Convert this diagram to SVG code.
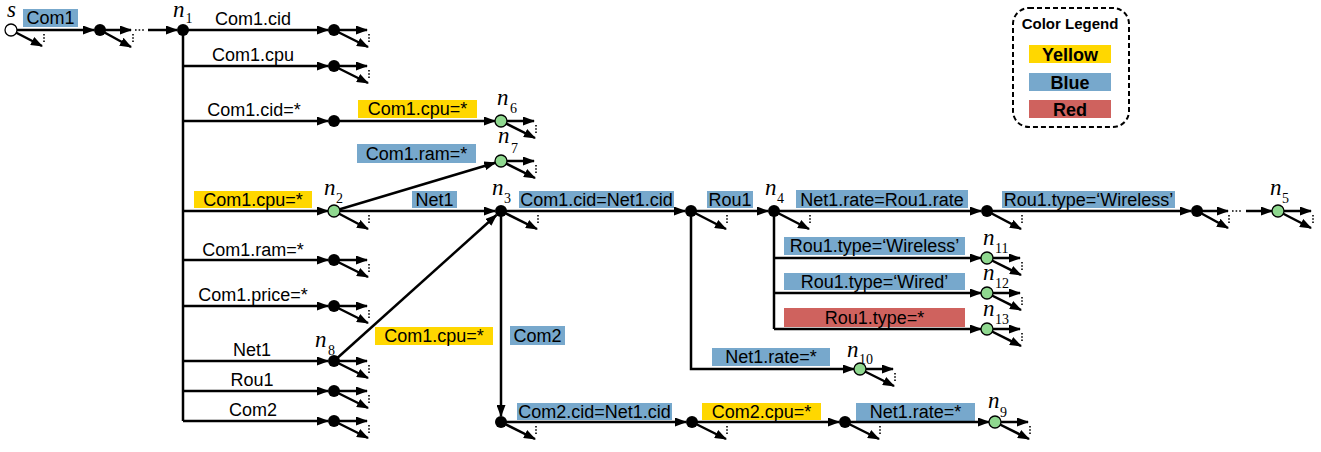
<svg xmlns="http://www.w3.org/2000/svg" width="1321" height="452" viewBox="0 0 1321 452">
<defs>
<style>
.e{stroke:#000;stroke-width:2.5;fill:none}
.a{marker-end:url(#ah)}
.dot{stroke:#000;stroke-width:1.6;stroke-dasharray:1.6 1.6;fill:none}
.ell{stroke:#000;stroke-width:1.6;stroke-dasharray:1.6 2;fill:none}
.nb{fill:#000}
.nw{fill:#fff;stroke:#000;stroke-width:1.3}
.ng{fill:#8FD88F;stroke:#000;stroke-width:1.3}
.t{font-family:"Liberation Sans",Arial,sans-serif;font-size:18px;fill:#000}
.c{text-anchor:middle}
.ni{font-family:"Liberation Serif","Times New Roman",serif;font-style:italic;font-size:23px;fill:#000}
.ns{font-family:"Liberation Serif","Times New Roman",serif;font-size:14px;fill:#000}
.by{fill:#FFD700}
.bb{fill:#77A8CC}
.br{fill:#CF625E}
.lg{font-family:"Liberation Sans",Arial,sans-serif;font-weight:bold;fill:#000;text-anchor:middle}
</style>
<marker id="ah" markerUnits="userSpaceOnUse" markerWidth="12" markerHeight="9" refX="11" refY="4.5" orient="auto">
<path d="M0,0 L12,4.5 L0,9 z" fill="#000"/>
</marker>
</defs>

<!-- edge labels (boxes) -->
<g id="edge-labels">
<rect class="bb" x="23" y="9" width="55" height="18"/><text class="t c" x="50.5" y="24">Com1</text>
<text class="t c" x="253" y="25">Com1.cid</text>
<text class="t c" x="253" y="61">Com1.cpu</text>
<text class="t c" x="254" y="116">Com1.cid=*</text>
<rect class="by" x="194" y="191" width="118" height="17"/><text class="t c" x="253" y="206">Com1.cpu=*</text>
<text class="t c" x="253" y="256">Com1.ram=*</text>
<text class="t c" x="253" y="301">Com1.price=*</text>
<text class="t c" x="252" y="356">Net1</text>
<text class="t c" x="252" y="386">Rou1</text>
<text class="t c" x="253" y="416">Com2</text>
<rect class="by" x="358" y="100" width="119" height="18"/><text class="t c" x="417.5" y="115">Com1.cpu=*</text>
<rect class="bb" x="357" y="144" width="119" height="19"/><text class="t c" x="416.5" y="160">Com1.ram=*</text>
<rect class="bb" x="412" y="191" width="45" height="17"/><text class="t c" x="434.5" y="206">Net1</text>
<rect class="by" x="375" y="327" width="118" height="18"/><text class="t c" x="434" y="342">Com1.cpu=*</text>
<rect class="bb" x="510" y="326" width="55" height="19"/><text class="t c" x="537.5" y="342">Com2</text>
<rect class="bb" x="519" y="191" width="155" height="17"/><text class="t c" x="596.5" y="206">Com1.cid=Net1.cid</text>
<rect class="bb" x="707" y="191" width="46" height="17"/><text class="t c" x="730" y="206">Rou1</text>
<rect class="bb" x="796" y="190" width="172" height="18"/><text class="t c" x="882" y="206">Net1.rate=Rou1.rate</text>
<rect class="bb" x="1002" y="191" width="173" height="17"/><text class="t c" x="1088.5" y="206">Rou1.type=‘Wireless’</text>
<rect class="bb" x="784" y="237" width="181" height="18"/><text class="t c" x="874.5" y="252">Rou1.type=‘Wireless’</text>
<rect class="bb" x="784" y="273" width="181" height="17"/><text class="t c" x="874.5" y="288">Rou1.type=‘Wired’</text>
<rect class="br" x="784" y="308" width="181" height="19"/><text class="t c" x="874.5" y="324">Rou1.type=*</text>
<rect class="bb" x="712" y="348" width="118" height="18"/><text class="t c" x="771" y="363">Net1.rate=*</text>
<rect class="bb" x="517" y="403" width="155" height="17"/><text class="t c" x="594.5" y="418">Com2.cid=Net1.cid</text>
<rect class="by" x="702" y="403" width="119" height="17"/><text class="t c" x="761.5" y="418">Com2.cpu=*</text>
<rect class="bb" x="856" y="403" width="119" height="18"/><text class="t c" x="915.5" y="418">Net1.rate=*</text>
</g>

<!-- connectors -->
<g id="connectors">
<line class="e a" x1="11" y1="30" x2="94" y2="30"/>
<line class="ell" x1="135" y1="30" x2="145" y2="30"/>
<line class="e a" x1="148" y1="30" x2="177" y2="30"/>
<line class="e" x1="183" y1="30" x2="183" y2="421"/>
<line class="e a" x1="183" y1="30" x2="328" y2="30"/>
<line class="e a" x1="183" y1="66" x2="328" y2="66"/>
<line class="e a" x1="183" y1="121" x2="328" y2="121"/>
<line class="e a" x1="183" y1="211" x2="328" y2="211"/>
<line class="e a" x1="183" y1="260" x2="328" y2="260"/>
<line class="e a" x1="183" y1="306" x2="328" y2="306"/>
<line class="e a" x1="183" y1="361" x2="328" y2="361"/>
<line class="e a" x1="183" y1="391" x2="328" y2="391"/>
<line class="e a" x1="183" y1="421" x2="328" y2="421"/>
<line class="e a" x1="334" y1="121" x2="495" y2="121"/>
<line class="e a" x1="334" y1="211" x2="495.3" y2="162.7"/>
<line class="e a" x1="334" y1="211" x2="495" y2="211"/>
<line class="e a" x1="334" y1="361" x2="496.5" y2="215"/>
<line class="e a" x1="501" y1="211" x2="501" y2="416"/>
<line class="e a" x1="501" y1="211" x2="685" y2="211"/>
<line class="e a" x1="691" y1="211" x2="768" y2="211"/>
<polyline class="e a" points="691,211 691,369 854,369"/>
<line class="e a" x1="774" y1="211" x2="981" y2="211"/>
<line class="e" x1="774" y1="211" x2="774" y2="329"/>
<line class="e a" x1="774" y1="258" x2="981" y2="258"/>
<line class="e a" x1="774" y1="293" x2="981" y2="293"/>
<line class="e a" x1="774" y1="329" x2="981" y2="329"/>
<line class="e a" x1="987" y1="211" x2="1191" y2="211"/>
<line class="ell" x1="1232" y1="211" x2="1242" y2="211"/>
<line class="e a" x1="1246" y1="211" x2="1272" y2="211"/>
<line class="e a" x1="501" y1="422" x2="686" y2="422"/>
<line class="e a" x1="692" y1="422" x2="839" y2="422"/>
<line class="e a" x1="845" y1="422" x2="989" y2="422"/>
</g>

<!-- nodes -->
<g id="node-s"><line class="e a" x1="11" y1="30" x2="42" y2="46"/><line class="dot" x1="44" y1="34" x2="44" y2="43"/><circle class="nw" cx="11" cy="30" r="6"/><text class="ni" x="7" y="17">s</text></g>
<g id="node-a1"><line class="e a" x1="100" y1="30" x2="131" y2="30"/><line class="e a" x1="100" y1="30" x2="131" y2="47"/><line class="dot" x1="133" y1="34" x2="133" y2="43"/><circle class="nb" cx="100" cy="30" r="6"/></g>
<g id="node-n1"><circle class="nb" cx="183" cy="30" r="6"/><text class="ni" x="173" y="17">n</text><text class="ns" x="185.5" y="23">1</text></g>
<g id="node-b1"><line class="e a" x1="334" y1="30" x2="367" y2="30"/><line class="e a" x1="334" y1="30" x2="368" y2="47"/><line class="dot" x1="369" y1="34" x2="369" y2="43"/><circle class="nb" cx="334" cy="30" r="6"/></g>
<g id="node-b2"><line class="e a" x1="334" y1="66" x2="367" y2="66"/><line class="e a" x1="334" y1="66" x2="368" y2="83"/><line class="dot" x1="369" y1="70" x2="369" y2="79"/><circle class="nb" cx="334" cy="66" r="6"/></g>
<g id="node-b3"><circle class="nb" cx="334" cy="121" r="6"/></g>
<g id="node-n6"><line class="e a" x1="501" y1="121" x2="534" y2="121"/><line class="e a" x1="501" y1="121" x2="535" y2="138"/><line class="dot" x1="536" y1="125" x2="536" y2="134"/><circle class="ng" cx="501" cy="121" r="6"/><text class="ni" x="497" y="105">n</text><text class="ns" x="510" y="113">6</text></g>
<g id="node-n7"><line class="e a" x1="501" y1="161" x2="534" y2="161"/><line class="e a" x1="501" y1="161" x2="535" y2="178"/><line class="dot" x1="536" y1="165" x2="536" y2="174"/><circle class="ng" cx="501" cy="161" r="6"/><text class="ni" x="498" y="143">n</text><text class="ns" x="511" y="153">7</text></g>
<g id="node-n2"><line class="e a" x1="334" y1="211" x2="368" y2="229"/><line class="dot" x1="369" y1="215" x2="369" y2="223"/><circle class="ng" cx="334" cy="211" r="6"/><text class="ni" x="324" y="195">n</text><text class="ns" x="336" y="203">2</text></g>
<g id="node-b5"><line class="e a" x1="334" y1="260" x2="367" y2="260"/><line class="e a" x1="334" y1="260" x2="368" y2="277"/><line class="dot" x1="369" y1="264" x2="369" y2="273"/><circle class="nb" cx="334" cy="260" r="6"/></g>
<g id="node-b6"><line class="e a" x1="334" y1="306" x2="367" y2="306"/><line class="e a" x1="334" y1="306" x2="368" y2="323"/><line class="dot" x1="369" y1="310" x2="369" y2="319"/><circle class="nb" cx="334" cy="306" r="6"/></g>
<g id="node-n8"><line class="e a" x1="334" y1="361" x2="367" y2="361"/><line class="e a" x1="334" y1="361" x2="368" y2="378"/><line class="dot" x1="369" y1="365" x2="369" y2="374"/><circle class="nb" cx="334" cy="361" r="6"/><text class="ni" x="315" y="347">n</text><text class="ns" x="328" y="355">8</text></g>
<g id="node-b8"><line class="e a" x1="334" y1="391" x2="367" y2="391"/><line class="e a" x1="334" y1="391" x2="368" y2="408"/><line class="dot" x1="369" y1="395" x2="369" y2="404"/><circle class="nb" cx="334" cy="391" r="6"/></g>
<g id="node-b9"><line class="e a" x1="334" y1="421" x2="367" y2="421"/><line class="e a" x1="334" y1="421" x2="368" y2="438"/><line class="dot" x1="369" y1="425" x2="369" y2="434"/><circle class="nb" cx="334" cy="421" r="6"/></g>
<g id="node-n3"><line class="e a" x1="501" y1="211" x2="537" y2="229"/><line class="dot" x1="538" y1="215" x2="538" y2="223"/><circle class="nb" cx="501" cy="211" r="6"/><text class="ni" x="492" y="195">n</text><text class="ns" x="504" y="203">3</text></g>
<g id="node-c1"><line class="e a" x1="691" y1="211" x2="726" y2="229"/><line class="dot" x1="727" y1="215" x2="727" y2="223"/><circle class="nb" cx="691" cy="211" r="6"/></g>
<g id="node-n4"><line class="e a" x1="774" y1="211" x2="809" y2="229"/><line class="dot" x1="810" y1="215" x2="810" y2="223"/><circle class="nb" cx="774" cy="211" r="6"/><text class="ni" x="765" y="195">n</text><text class="ns" x="777" y="203">4</text></g>
<g id="node-c3"><line class="e a" x1="987" y1="211" x2="1021" y2="229"/><line class="dot" x1="1022" y1="215" x2="1022" y2="223"/><circle class="nb" cx="987" cy="211" r="6"/></g>
<g id="node-c4"><line class="e a" x1="1197" y1="211" x2="1228" y2="211"/><line class="e a" x1="1197" y1="211" x2="1228" y2="228"/><line class="dot" x1="1229" y1="215" x2="1229" y2="223"/><circle class="nb" cx="1197" cy="211" r="6"/></g>
<g id="node-n5"><line class="e a" x1="1278" y1="211" x2="1311" y2="211"/><line class="e a" x1="1278" y1="211" x2="1311" y2="228"/><line class="dot" x1="1313" y1="215" x2="1313" y2="223"/><circle class="ng" cx="1278" cy="211" r="6"/><text class="ni" x="1270" y="195">n</text><text class="ns" x="1282" y="203">5</text></g>
<g id="node-n11"><line class="e a" x1="987" y1="258" x2="1020" y2="258"/><line class="e a" x1="987" y1="258" x2="1021" y2="275"/><line class="dot" x1="1022" y1="262" x2="1022" y2="271"/><circle class="ng" cx="987" cy="258" r="6"/><text class="ni" x="983" y="245">n</text><text class="ns" x="995" y="253">11</text></g>
<g id="node-n12"><line class="e a" x1="987" y1="293" x2="1020" y2="293"/><line class="e a" x1="987" y1="293" x2="1021" y2="310"/><line class="dot" x1="1022" y1="297" x2="1022" y2="306"/><circle class="ng" cx="987" cy="293" r="6"/><text class="ni" x="983" y="280">n</text><text class="ns" x="995" y="288">12</text></g>
<g id="node-n13"><line class="e a" x1="987" y1="329" x2="1020" y2="329"/><line class="e a" x1="987" y1="329" x2="1021" y2="346"/><line class="dot" x1="1022" y1="333" x2="1022" y2="342"/><circle class="ng" cx="987" cy="329" r="6"/><text class="ni" x="983" y="316">n</text><text class="ns" x="995" y="324">13</text></g>
<g id="node-n10"><line class="e a" x1="860" y1="369" x2="893" y2="369"/><line class="e a" x1="860" y1="369" x2="894" y2="386"/><line class="dot" x1="895" y1="373" x2="895" y2="382"/><circle class="ng" cx="860" cy="369" r="6"/><text class="ni" x="847" y="357">n</text><text class="ns" x="859" y="364">10</text></g>
<g id="node-d1"><line class="e a" x1="501" y1="422" x2="535" y2="439"/><line class="dot" x1="536" y1="426" x2="536" y2="434"/><circle class="nb" cx="501" cy="422" r="6"/></g>
<g id="node-d2"><line class="e a" x1="692" y1="422" x2="726" y2="439"/><line class="dot" x1="727" y1="426" x2="727" y2="434"/><circle class="nb" cx="692" cy="422" r="6"/></g>
<g id="node-d3"><line class="e a" x1="845" y1="422" x2="879" y2="439"/><line class="dot" x1="880" y1="426" x2="880" y2="434"/><circle class="nb" cx="845" cy="422" r="6"/></g>
<g id="node-n9"><line class="e a" x1="995" y1="422" x2="1028" y2="422"/><line class="e a" x1="995" y1="422" x2="1029" y2="439"/><line class="dot" x1="1030" y1="426" x2="1030" y2="435"/><circle class="ng" cx="995" cy="422" r="6"/><text class="ni" x="988" y="408">n</text><text class="ns" x="1000" y="417">9</text></g>

<!-- legend -->
<g id="legend">
<rect x="1013" y="8" width="116" height="119" rx="16" ry="16" fill="none" stroke="#000" stroke-width="2" stroke-dasharray="5 3"/>
<text class="lg" x="1070" y="29" font-size="15">Color Legend</text>
<rect class="by" x="1029" y="45" width="82" height="18"/><text class="lg" x="1070" y="61" font-size="18">Yellow</text>
<rect class="bb" x="1029" y="73" width="82" height="18"/><text class="lg" x="1070" y="89" font-size="18">Blue</text>
<rect class="br" x="1029" y="100" width="82" height="18"/><text class="lg" x="1070" y="116" font-size="18">Red</text>
</g>
</svg>
